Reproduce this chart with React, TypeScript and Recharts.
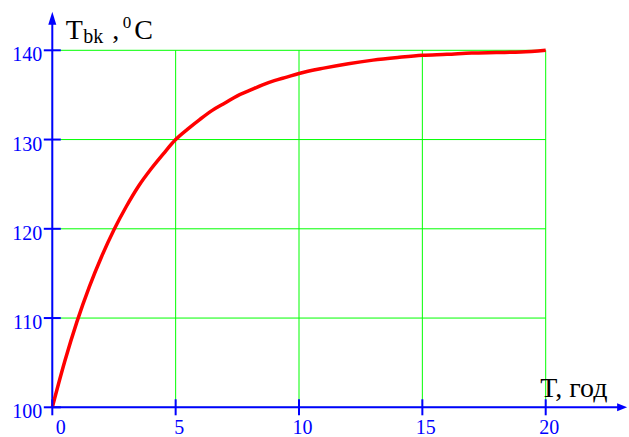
import React from 'react';
import { LineChart, Line, XAxis, YAxis, CartesianGrid, ReferenceLine, Label } from 'recharts';

// Years (T, год)
const years = [0, 0.5, 1, 1.5, 2, 2.5, 3, 3.5, 4, 4.5, 5, 5.5, 6, 6.5, 7, 7.5, 8, 8.5, 9, 9.5, 10, 11, 12, 13, 14, 15, 16, 17, 18, 19, 20];
// Temperature T_bk, °C
const temps = [100, 105.1, 109.6, 113.5, 116.9, 119.9, 122.5, 124.8, 126.7, 128.4, 130.0, 131.2, 132.3, 133.3, 134.1, 134.9, 135.5, 136.1, 136.6, 137.0, 137.4, 138.0, 138.5, 138.9, 139.2, 139.45, 139.55, 139.7, 139.75, 139.8, 140.0];
const xTicks = [0, 5, 10, 15, 20];
const yTicks = [100, 110, 120, 130, 140];

const data = years.map((t, i) => ({ t, v: temps[i] }));

const BLUE = '#0000ff';
const SERIF = '"Liberation Serif", "Times New Roman", serif';

const renderXTick = (props: any) => {
  const { x, y, payload } = props;
  const dx = payload.value === 0 ? 8.4 : 3.5;
  return (
    <g key={`xt-${payload.value}`}>
      <line x1={x} x2={x} y1={y - 8} y2={y + 8} stroke={BLUE} strokeWidth={2} />
      <text x={x + dx} y={y + 26.5} textAnchor="middle" fill={BLUE} fontSize={20} fontFamily={SERIF}>
        {payload.value}
      </text>
    </g>
  );
};

const renderYTick = (props: any) => {
  const { x, y, payload } = props;
  return (
    <g key={`yt-${payload.value}`}>
      <line x1={x - 8.5} x2={x + 8.5} y1={y} y2={y} stroke={BLUE} strokeWidth={2} />
      <text x={x - 10} y={y + 11} textAnchor="end" fill={BLUE} fontSize={20} fontFamily={SERIF}>
        {payload.value}
      </text>
    </g>
  );
};

const UpArrowAxis = (p: any) => {
  const { x1, y1, x2, y2 } = p;
  return (
    <g>
      <line x1={x1} y1={y1} x2={x2} y2={y2 + 6} stroke={BLUE} strokeWidth={2} />
      <polygon points={`${x2},${y2} ${x2 - 4},${y2 + 13} ${x2 + 4},${y2 + 13}`} fill={BLUE} />
    </g>
  );
};

const RightArrowAxis = (p: any) => {
  const { x1, y1, x2, y2 } = p;
  return (
    <g>
      <line x1={x1} y1={y1} x2={x2 - 6} y2={y2} stroke={BLUE} strokeWidth={2} />
      <polygon points={`${x2},${y2} ${x2 - 10},${y2 - 4} ${x2 - 10},${y2 + 4}`} fill={BLUE} />
    </g>
  );
};

const YTitle = (props: any) => {
  const vb = props.viewBox || { x: 0, y: 50, width: 52 };
  const ax = vb.x + (vb.width || 0);
  const base = vb.y - 11;
  return (
    <text fontFamily={SERIF} fill="#000">
      <tspan x={ax + 13.5} y={base} fontSize={28}>T</tspan>
      <tspan x={ax + 31} y={base + 4} fontSize={20}>bk</tspan>
      <tspan x={ax + 60} y={base} fontSize={28}>,</tspan>
      <tspan x={ax + 70.5} y={base - 11} fontSize={17}>0</tspan>
      <tspan x={ax + 82} y={base} fontSize={28}>C</tspan>
    </text>
  );
};

const XTitle = (props: any) => {
  const vb = props.viewBox || { x: 52, y: 407, width: 494 };
  return (
    <text x={vb.x + vb.width - 5.5} y={vb.y - 10} fontFamily={SERIF} fontSize={28} fill="#000">
      T, год
    </text>
  );
};

export default function App() {
  return (
    <div style={{ position: 'absolute', left: 0, top: 0, width: 629, height: 437, background: '#fff' }}>
      <LineChart
        width={629}
        height={437}
        data={data}
        margin={{ top: 50.3, left: 0, right: 83.3, bottom: 0 }}
      >
        <CartesianGrid stroke="#00ff00" strokeWidth={1} />
        <XAxis
          dataKey="t"
          type="number"
          domain={[0, 20]}
          ticks={xTicks}
          interval={0}
          height={29.7}
          axisLine={false}
          tickLine={false}
          tickSize={0}
          tickMargin={0}
          tick={renderXTick}
        >
          <Label content={XTitle} />
        </XAxis>
        <YAxis
          type="number"
          domain={[100, 140]}
          ticks={yTicks}
          interval={0}
          width={52.3}
          axisLine={false}
          tickLine={false}
          tickSize={0}
          tickMargin={0}
          tick={renderYTick}
        >
          <Label content={YTitle} />
        </YAxis>
        <ReferenceLine
          segment={[{ x: 0, y: 100 }, { x: 0, y: 144.33 }]}
          ifOverflow="visible"
          shape={<UpArrowAxis />}
        />
        <ReferenceLine
          segment={[{ x: 0, y: 100 }, { x: 23.3, y: 100 }]}
          ifOverflow="visible"
          shape={<RightArrowAxis />}
        />
        <Line
          dataKey="v"
          type="monotone"
          stroke="#ff0000"
          strokeWidth={3.5}
          dot={false}
          isAnimationActive={false}
        />
      </LineChart>
    </div>
  );
}
